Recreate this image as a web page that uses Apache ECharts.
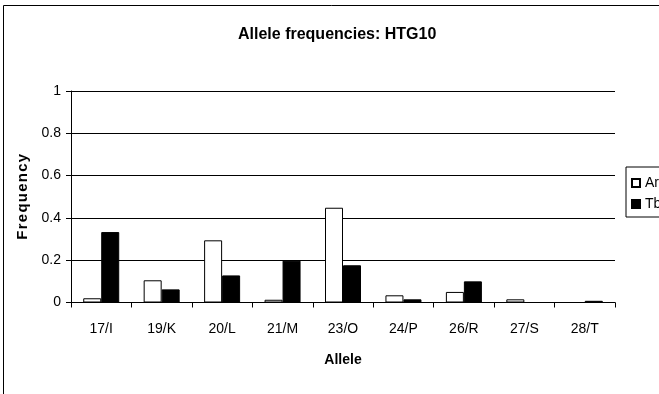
<!DOCTYPE html>
<html>
<head>
<meta charset="utf-8">
<script src="https://cdn.jsdelivr.net/npm/echarts@6/dist/echarts.min.js"></script>
<style>
  html, body { margin: 0; padding: 0; background: #fff; }
  #chart { width: 659px; height: 394px; }
</style>
</head>
<body>
<div id="chart"></div>
<script>
// Allele frequencies for locus HTG10 in two populations
const alleles = ['17/I', '19/K', '20/L', '21/M', '23/O', '24/P', '26/R', '27/S', '28/T'];
const arValues = [0.02, 0.105, 0.294, 0.013, 0.448, 0.034, 0.05, 0.015, 0];
const tbValues = [0.333, 0.062, 0.128, 0.198, 0.176, 0.015, 0.1, 0, 0.008];
const seriesNames = ['Ar', 'Tb'];

const FONT = '"Liberation Sans Narrow", "Arial Narrow", "Liberation Sans", Arial, sans-serif';
// spaced-out axis title
const yTitle = 'Frequency'.split('').join('\u200A');

const chart = echarts.init(document.getElementById('chart'), null, { renderer: 'canvas' });
chart.setOption({
  animation: false,
  backgroundColor: '#fff',
  graphic: [{
    type: 'rect',
    shape: { x: 3.5, y: 5.5, width: 720, height: 420 },
    style: { fill: 'none', stroke: '#000', lineWidth: 1 },
    silent: true
  }],
  title: {
    text: 'Allele frequencies: HTG10',
    left: 238,
    top: 27,
    padding: 0,
    textStyle: { fontFamily: FONT, fontSize: 16, fontWeight: 'bold', color: '#000' }
  },
  legend: {
    orient: 'vertical',
    left: 626,
    top: 167,
    itemWidth: 8,
    itemHeight: 8,
    itemGap: 7,
    padding: [9, 10, 6, 5],
    borderColor: '#000',
    borderWidth: 1,
    textStyle: { fontFamily: FONT, fontSize: 14, color: '#000' },
    data: seriesNames.map(n => ({ name: n, icon: 'rect' }))
  },
  grid: { left: 71, right: 44, top: 91, bottom: 91.5, containLabel: false },
  xAxis: {
    type: 'category',
    data: alleles,
    name: 'Allele',
    nameLocation: 'middle',
    nameGap: 51,
    nameTextStyle: { fontFamily: FONT, fontSize: 14, fontWeight: 'bold', color: '#000' },
    axisLine: { lineStyle: { color: '#000', width: 1 } },
    axisTick: { show: true, length: 5, alignWithLabel: false, lineStyle: { color: '#000' } },
    axisLabel: { fontFamily: FONT, fontSize: 14, color: '#000', margin: 20 }
  },
  yAxis: {
    type: 'value',
    min: 0,
    max: 1,
    interval: 0.2,
    name: yTitle,
    nameLocation: 'middle',
    nameGap: 34,
    nameTextStyle: { fontFamily: FONT, fontSize: 15, fontWeight: 'bold', color: '#000' },
    axisLine: { show: true, lineStyle: { color: '#000', width: 1 } },
    axisTick: { show: true, length: 5, lineStyle: { color: '#000' } },
    axisLabel: { fontFamily: FONT, fontSize: 14, color: '#000', margin: 10 },
    splitLine: { show: true, lineStyle: { color: '#000', width: 1 } }
  },
  series: [
    {
      name: seriesNames[0],
      type: 'bar',
      data: arValues,
      barWidth: 18,
      barGap: '0%',
      itemStyle: { color: '#fff', borderColor: '#000', borderWidth: 1 }
    },
    {
      name: seriesNames[1],
      type: 'bar',
      data: tbValues,
      barWidth: 18,
      barGap: '0%',
      itemStyle: { color: '#000', borderColor: '#000', borderWidth: 1 }
    }
  ]
});
</script>
</body>
</html>
